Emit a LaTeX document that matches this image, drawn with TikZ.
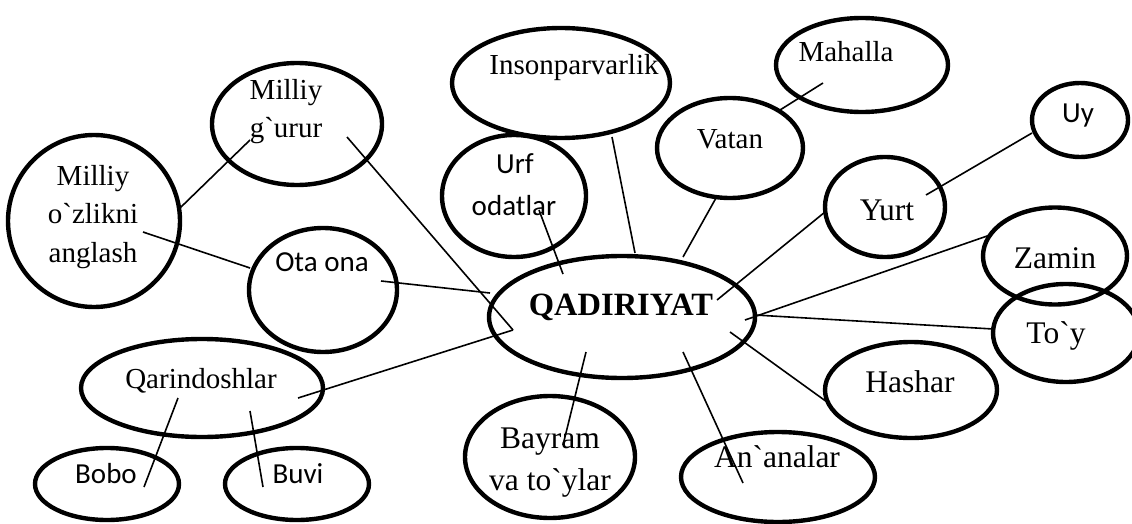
\documentclass[tikz,border=0pt]{standalone}
\usepackage{fontspec}
\setmainfont{Liberation Serif}[Ligatures=TeXOff]
\newfontfamily\calfont{Carlito}
\usetikzlibrary{shapes.geometric}
\newcommand{\bqt}{\symbol{96}}
\tikzset{
  ell/.style={draw, ellipse, line width=4.4pt, inner sep=0pt},
  con/.style={line width=1.6pt},
  tx/.style={anchor=base, inner sep=0pt, font=\fontsize{29}{35}\selectfont},
  txl/.style={anchor=base, inner sep=0pt, font=\fontsize{31.5}{38}\selectfont},
  sf/.style={anchor=base, inner sep=0pt, font=\calfont\fontsize{29}{35}\selectfont},
  bd/.style={anchor=base, inner sep=0pt, font=\bfseries\fontsize{32.5}{38}\selectfont}
}
\begin{document}
\begin{tikzpicture}[x=1pt,y=-1pt]
\useasboundingbox (0,0) rectangle (1132,524);
% ellipses
\node[ell, minimum width=172, minimum height=172] (mo) at (94,221) {};
\node[ell, minimum width=170, minimum height=122] (mg) at (297,124) {};
\node[ell, minimum width=148, minimum height=124] (oo) at (323,290) {};
\node[ell, minimum width=218, minimum height=110] (ins) at (561,83) {};
\node[ell, minimum width=144, minimum height=122] (urf) at (514,196) {};
\node[ell, minimum width=146, minimum height=100] (vat) at (730,148) {};
\node[ell, minimum width=172, minimum height=94] (mah) at (862,65) {};
\node[ell, minimum width=96, minimum height=74] (uy) at (1080,120) {};
\node[ell, minimum width=120, minimum height=100] (yurt) at (885,207) {};
\node[ell, minimum width=144, minimum height=97] (zam) at (1055,256) {};
\node[ell, minimum width=146, minimum height=98] (toy) at (1066,333) {};
\node[ell, minimum width=172, minimum height=96] (has) at (911,390) {};
\node[ell, minimum width=266, minimum height=122] (q) at (622,317) {};
\node[ell, minimum width=170, minimum height=122] (bay) at (550,457) {};
\node[ell, minimum width=194, minimum height=90] (ana) at (778,477) {};
\node[ell, minimum width=242, minimum height=98] (qar) at (202,388) {};
\node[ell, minimum width=144, minimum height=72] (bob) at (107,484) {};
\node[ell, minimum width=144, minimum height=72] (buv) at (297,484) {};
% texts
\node[tx] (tmo1) at (93,185) {Milliy};
\node[tx] (tmo2) at (93,223) {o\bqt zlikni};
\node[tx] (tmo3) at (93,262) {anglash};
\node[tx] (tmg1) at (286,100) {Milliy};
\node[tx] (tmg2) at (286,138) {g\bqt urur};
\node[sf] (too) at (322,271) {Ota ona};
\node[tx] (tins) at (574,75) {Insonparvarlik};
\node[sf] (turf1) at (515,173) {Urf};
\node[sf] (turf2) at (514,215) {odatlar};
\node[tx] (tvat) at (730,148) {Vatan};
\node[tx] (tmah) at (846,62) {Mahalla};
\node[sf] (tuy) at (1078,123) {Uy};
\node[txl] (tyurt) at (887,220) {Yurt};
\node[txl] (tzam) at (1055,268) {Zamin};
\node[txl] (ttoy) at (1056,343) {To\bqt y};
\node[txl] (thas) at (910,392) {Hashar};
\node[bd] (tq) at (621,315) {QADIRIYAT};
\node[txl] (tbay1) at (550,448) {Bayram};
\node[txl] (tbay2) at (550,490) {va to\bqt ylar};
\node[txl] (tana) at (777,467) {An\bqt analar};
\node[tx] (tqar) at (201,388) {Qarindoshlar};
\node[sf] (tbob) at (106,483) {Bobo};
\node[sf] (tbuv) at (298,483) {Buvi};
% connector end points
\coordinate (a1) at (180,208); \coordinate (a2) at (250,140);
\coordinate (b1) at (143,232); \coordinate (b2) at (250,268);
\coordinate (c1) at (347,137); \coordinate (c2) at (513,330);
\coordinate (d1) at (381,281); \coordinate (d2) at (490,293);
\coordinate (e1) at (298,398); \coordinate (e2) at (513,330);
\coordinate (f1) at (178,398); \coordinate (f2) at (144,487);
\coordinate (g1) at (250,411); \coordinate (g2) at (263,487);
\coordinate (h1) at (539,210); \coordinate (h2) at (563,274);
\coordinate (i1) at (612,137); \coordinate (i2) at (635,253);
\coordinate (j1) at (716,198); \coordinate (j2) at (683,257);
\coordinate (k1) at (823,83);  \coordinate (k2) at (780,110);
\coordinate (l1) at (825,212); \coordinate (l2) at (717,300);
\coordinate (m1) at (926,195); \coordinate (m2) at (1032,133);
\coordinate (n1) at (990,235); \coordinate (n2) at (745,320);
\coordinate (o1) at (755,315); \coordinate (o2) at (993,329);
\coordinate (p1) at (730,332); \coordinate (p2) at (827,402);
\coordinate (r1) at (683,352); \coordinate (r2) at (743,483);
\coordinate (s1) at (586,352); \coordinate (s2) at (563,445);
% connectors
\draw[con] (a1) -- (a2);
\draw[con] (b1) -- (b2);
\draw[con] (c1) -- (c2);
\draw[con] (d1) -- (d2);
\draw[con] (e1) -- (e2);
\draw[con] (f1) -- (f2);
\draw[con] (g1) -- (g2);
\draw[con] (h1) -- (h2);
\draw[con] (i1) -- (i2);
\draw[con] (j1) -- (j2);
\draw[con] (k1) -- (k2);
\draw[con] (l1) -- (l2);
\draw[con] (m1) -- (m2);
\draw[con] (n1) -- (n2);
\draw[con] (o1) -- (o2);
\draw[con] (p1) -- (p2);
\draw[con] (r1) -- (r2);
\draw[con] (s1) -- (s2);
\end{tikzpicture}
\end{document}
